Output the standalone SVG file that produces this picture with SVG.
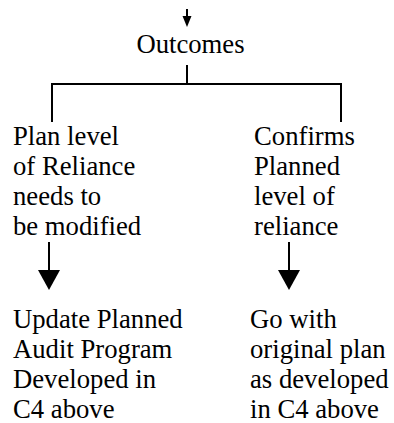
<svg xmlns="http://www.w3.org/2000/svg" width="394" height="423" viewBox="0 0 394 423">
<style>
text{font-family:'Liberation Serif','Times New Roman',serif;font-size:26.7px;fill:#000}
.ln{stroke:#000;stroke-width:2;fill:none}
.ah{fill:#000}
</style>
<rect width="394" height="423" fill="#fff"/>
<g id="connectors">
<line class="ln" x1="187" y1="9" x2="187" y2="17"/>
<polygon class="ah" points="182.5,16 191.5,16 187,27"/>
<line class="ln" x1="187" y1="65" x2="187" y2="84"/>
<polyline class="ln" points="52,122 52,84 341,84 341,122"/>
<line class="ln" x1="49" y1="242" x2="49" y2="272"/>
<polygon class="ah" points="38,270 60,270 49,290"/>
<line class="ln" x1="289" y1="242" x2="289" y2="272"/>
<polygon class="ah" points="278,270 300,270 289,290"/>
</g>
<g id="outcomes"><text x="190.5" y="53" text-anchor="middle">Outcomes</text></g>
<g id="modify">
<text x="13" y="145">Plan level</text>
<text x="13" y="175">of Reliance</text>
<text x="13" y="205">needs to</text>
<text x="13" y="235">be modified</text>
</g>
<g id="confirms">
<text x="254" y="145">Confirms</text>
<text x="254" y="175">Planned</text>
<text x="254" y="205">level of</text>
<text x="254" y="235">reliance</text>
</g>
<g id="update">
<text x="13" y="328">Update Planned</text>
<text x="13" y="358">Audit Program</text>
<text x="13" y="388">Developed in</text>
<text x="13" y="418">C4 above</text>
</g>
<g id="goWith">
<text x="250" y="328">Go with</text>
<text x="250" y="358">original plan</text>
<text x="250" y="388">as developed</text>
<text x="250" y="418">in C4 above</text>
</g>
</svg>
